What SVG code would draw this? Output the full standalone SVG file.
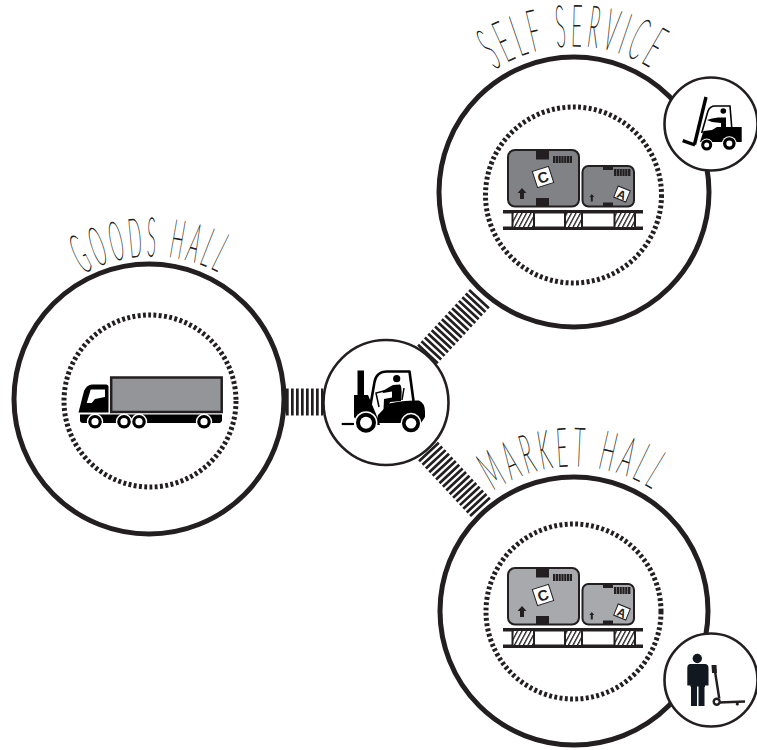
<svg xmlns="http://www.w3.org/2000/svg" xmlns:xlink="http://www.w3.org/1999/xlink" width="757" height="750" viewBox="0 0 757 750">
<style>
.outer{fill:#fff;stroke:#231f20;stroke-width:5}
.small{fill:#fff;stroke:#231f20;stroke-width:2.6}
.ring{fill:none;stroke:#231f20;stroke-width:5;stroke-dasharray:2.9 2.4}
.band{fill:none;stroke:#231f20;stroke-dasharray:2.7 2.3}
.title{font-family:"Lato","Liberation Sans",sans-serif;font-weight:100;fill:#231f20;stroke:#231f20;stroke-width:.9;letter-spacing:.22em}
.ln{fill:none;stroke:#000}
.k{fill:#000}
.w{fill:#fff}
.box{stroke:#231f20;stroke-width:2}
.lab{font-family:"Liberation Sans",sans-serif;font-weight:700;fill:#231f20;text-anchor:middle}
.bar{fill:none;stroke:#231f20;stroke-dasharray:2.2 .6}
</style>
<defs>
<path id="arcSelf" d="M494.5 69.6A146 146 0 0 1 653.5 69.6"/>
<path id="arcGoods" d="M82.7 273.9A143 143 0 0 1 221.3 273.9"/>
<path id="arcMarket" d="M493 490.8A145 145 0 0 1 655 490.8"/>
<pattern id="hatch" width="4.5" height="13" patternUnits="userSpaceOnUse" patternTransform="skewX(-28)">
<rect width="4.5" height="13" fill="#fff"/><rect width="1.5" height="13" fill="#231f20"/>
</pattern>
<g id="load">
<rect class="box" x="508" y="150" width="71" height="56.500" rx="7"/>
<rect class="box" x="582.500" y="166" width="51.500" height="40.500" rx="6"/>
<path d="M536 150h13v9.500h-13zM536 198h13v8.500h-13zM603 166h10v4h-10zM603 202.500h10v4h-10z" fill="#231f20"/>
<line class="bar" x1="553" y1="159.500" x2="572" y2="159.500" stroke-width="7"/>
<line class="bar" x1="614" y1="172.500" x2="631" y2="172.500" stroke-width="7"/>
<path d="M522 188l4.500 5h-2.500v6h-4v-6h-2.500zM591.800 194l2.400 3h-1.400v4.500h-2v-4.500h-1.400z" fill="#231f20"/>
<g transform="rotate(-18 543 177)"><rect x="534.500" y="168.500" width="17" height="17" fill="#fff" stroke="#231f20"/><text class="lab" x="543" y="182.500" font-size="15">C</text></g>
<g transform="rotate(22 622 194)"><rect x="615.500" y="188" width="13" height="12" fill="#fff" stroke="#231f20"/><text class="lab" x="622" y="199" font-size="12">A</text></g>
<path d="M503 210h140v3.400h-140zM503 226.500h140v3.400h-140z" fill="#231f20"/>
<path d="M513 213h20v14h-20zM565 213h17v14h-17zM615 213h20v14h-20z" fill="url(#hatch)"/>
<path d="M511.500 213h2v14h-2zM533 213h2v14h-2zM564 213h2v14h-2zM581 213h2v14h-2zM613.500 213h2v14h-2zM634 213h2v14h-2z" fill="#231f20"/>
</g>
</defs>

<g id="connectors">
<line class="band" x1="286" y1="402" x2="323" y2="402" stroke-width="27"/>
<line class="band" x1="427" y1="355" x2="480" y2="298" stroke-width="27"/>
<line class="band" x1="428" y1="451" x2="481" y2="508" stroke-width="27"/>
</g>

<g id="goods-hall">
<circle class="outer" cx="149" cy="399" r="135"/>
<circle class="ring" cx="150" cy="401" r="86"/>
<text class="title" font-size="54"><textPath href="#arcGoods" textLength="144" lengthAdjust="spacingAndGlyphs">GOODS HALL</textPath></text>
<g id="truck">
<rect x="111.200" y="377.500" width="110.500" height="34.500" fill="#939598" stroke="#231f20" stroke-width="2.500"/>
<path class="k" d="M78.500 412.500L84 391Q87 384.500 92 384.500H106Q108.500 384.500 108.500 387V412.500Z"/>
<path class="w" d="M86.700 403L90.700 389.500H105V397L95 399L91.700 403Z"/>
<path class="k" d="M80 414.500H222V421L220 423H83Q80 423 80 420Z"/>
<g class="w"><circle cx="95" cy="421.700" r="8.200"/><circle cx="124" cy="421.700" r="8.200"/><circle cx="139" cy="421.700" r="8.200"/><circle cx="204" cy="421.700" r="8.200"/></g>
<g class="k"><circle cx="95" cy="421.700" r="6.800"/><circle cx="124" cy="421.700" r="6.800"/><circle cx="139" cy="421.700" r="6.800"/><circle cx="204" cy="421.700" r="6.800"/></g>
<g class="w"><circle cx="95" cy="421.700" r="3.600"/><circle cx="124" cy="421.700" r="3.600"/><circle cx="139" cy="421.700" r="3.600"/><circle cx="204" cy="421.700" r="3.600"/></g>
</g>
</g>

<g id="self-service">
<circle class="outer" cx="574" cy="192" r="135"/>
<circle class="ring" cx="573.500" cy="195" r="88"/>
<text class="title" font-size="58"><textPath href="#arcSelf" textLength="168" lengthAdjust="spacingAndGlyphs">SELF SERVICE</textPath></text>
<use href="#load" fill="#808285"/>
</g>

<g id="market-hall">
<circle class="outer" cx="574" cy="611" r="134"/>
<circle class="ring" cx="573.500" cy="611.500" r="87.500"/>
<text class="title" font-size="54"><textPath href="#arcMarket" textLength="172" lengthAdjust="spacingAndGlyphs">MARKET HALL</textPath></text>
<use href="#load" y="418" fill="#a7a9ac"/>
</g>

<g id="hub">
<circle class="small" cx="386" cy="402.500" r="62.500"/>
<path class="k" d="M357.500 370.500H364V395H368L376 414L380 425H360L354 417V395H357.500Z"/>
<path class="ln" stroke-width="2.600" stroke-linejoin="round" d="M370 408L374.500 382Q376.500 371.500 387 371.500H409.500L413.500 401"/>
<path class="k" d="M378 415L389 403.500Q405 400 419 400.500Q425 403 425 412V417L421 423H376Z"/>
<circle class="k" cx="396.700" cy="378.700" r="3.600"/>
<path class="k" d="M393 385L400 384.500Q402 386 401.500 396L401 401L390 402L387 410H383.500L384 399L392 397.500V391.500L383 393L382.500 391Z"/>
<path class="ln" stroke-width="1.500" d="M384 391L376 393L379 407M404 388L402 400"/>
<path class="ln" stroke-width="2.200" d="M341.700 424H354"/>
<circle class="w" cx="366" cy="422.700" r="11.500"/><circle class="k" cx="366" cy="422.700" r="10"/><circle class="w" cx="366" cy="422.700" r="6"/>
<circle class="w" cx="411" cy="423.300" r="10.500"/><circle class="k" cx="411" cy="423.300" r="9"/><circle class="w" cx="411" cy="423.300" r="5.300"/>
</g>

<g id="self-service-badge">
<circle class="small" cx="711" cy="124" r="46.500"/>
<path class="ln" stroke-width="3.400" d="M706 97L694.500 144.500"/>
<path class="ln" stroke-width="3.400" d="M682.700 140.700L695 145"/>
<path class="ln" stroke-width="1.600" d="M701.700 133L708 111Q710 106 715 106H730L731.700 127"/>
<path class="k" d="M717 127H741.700V142H700L703.500 131L712 130Z"/>
<circle class="k" cx="723.300" cy="111" r="2.800"/>
<path class="k" d="M718 117.500H726V127H721V123L712 122L707 120L712 118.500Z"/>
<circle class="w" cx="706.700" cy="145" r="6.500"/><circle class="k" cx="706.700" cy="145" r="5.500"/><circle class="w" cx="706.700" cy="145" r="2.500"/>
<circle class="w" cx="729.300" cy="143.500" r="7.300"/><circle class="k" cx="729.300" cy="143.500" r="6.300"/><circle class="w" cx="729.300" cy="143.500" r="3"/>
</g>

<g id="market-hall-badge">
<circle class="small" cx="711" cy="680" r="46.500"/>
<circle cx="697.300" cy="658.500" r="4.700" fill="#111820"/>
<path fill="#111820" d="M690 664H705.500Q708.500 664.500 708.500 668V685.500H705V687H704.500V706H698.500V686.500H697V706H691V687H690.500V685.500H687.300V668Q687.300 664.500 690 664Z"/>
<path fill="#231f20" d="M711.500 665H716.500L717 673H716.500L720.500 698.500H718L714 673H712Z"/>
<circle cx="716.700" cy="701.700" r="3" fill="#fff" stroke="#231f20" stroke-width="2.400"/>
<path class="ln" style="stroke:#231f20" stroke-width="2.400" d="M719 702.500L745 701.500"/>
<circle cx="737.300" cy="704" r="1.600" fill="#231f20"/>
</g>
</svg>
